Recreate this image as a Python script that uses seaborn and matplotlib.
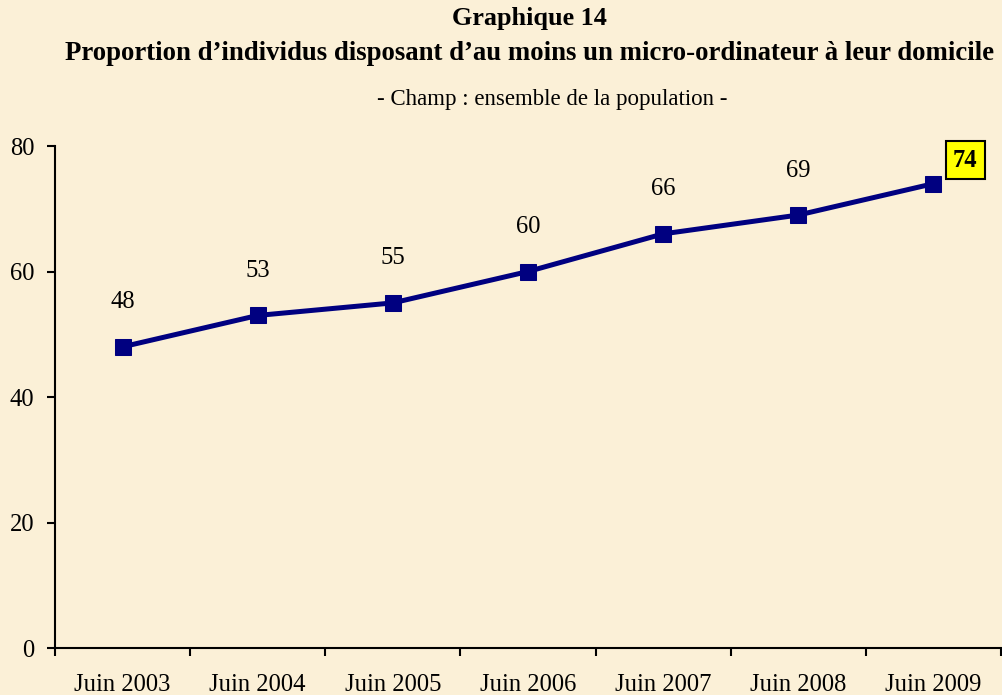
import matplotlib
matplotlib.use("Agg")
import matplotlib.pyplot as plt
import seaborn as sns
import pandas as pd
import numpy as np

categories = ["Juin 2003", "Juin 2004", "Juin 2005", "Juin 2006", "Juin 2007", "Juin 2008", "Juin 2009"]
values = [48, 53, 55, 60, 66, 69, 74]
yticks = [0, 20, 40, 60, 80]

title1 = "Graphique 14"
title2 = "Proportion d\u2019individus disposant d\u2019au moins un micro-ordinateur \u00e0 leur domicile"
subtitle = "- Champ : ensemble de la population -"

sns.set_theme(style="white")
plt.rcParams["font.family"] = ["Liberation Serif", "DejaVu Serif"]

bg = "#FBF0D7"
navy = "#000080"

df = pd.DataFrame({"periode": categories, "valeur": values})

fig = plt.figure(figsize=(10.02, 6.95), dpi=100, facecolor=bg)
ax = fig.add_axes([0.0549, 0.0676, 0.9441, 0.7223])
ax.set_facecolor(bg)

sns.lineplot(data=df, x="periode", y="valeur", ax=ax, color=navy, linewidth=3.6,
             marker="s", markersize=12, markeredgecolor=navy, markerfacecolor=navy)

ax.set_xlim(-0.5, len(categories) - 0.5)
ax.set_ylim(0, 80)
ax.set_xlabel("")
ax.set_ylabel("")

# ticks: major at category boundaries, labels at centres
ax.set_xticks(np.arange(-0.5, len(categories), 1.0))
ax.set_xticklabels([])
ax.set_xticks(np.arange(len(categories)), minor=True)
ax.set_xticklabels(categories, minor=True)
ax.tick_params(axis="x", which="major", direction="out", length=6, width=1.5, color="black", bottom=True)
ax.tick_params(axis="x", which="minor", length=0, pad=19, labelsize=17.7, labelcolor="black")
ax.set_yticks(yticks)
ax.tick_params(axis="y", direction="out", length=6, width=1.5, color="black", left=True,
               labelsize=17.7, labelcolor="black", pad=9)

for s in ["top", "right"]:
    ax.spines[s].set_visible(False)
for s in ["left", "bottom"]:
    ax.spines[s].set_color("black")
    ax.spines[s].set_linewidth(1.5)
ax.grid(False)

for i, v in enumerate(values):
    if i == len(values) - 1:
        ax.annotate(str(v), xy=(i, v), xytext=(23, 17), textcoords="offset points",
                    ha="center", va="center", fontsize=17.7, fontweight="bold", color="black",
                    bbox=dict(boxstyle="square,pad=0.3", facecolor="#FFFF00", edgecolor="black", linewidth=1.5))
    else:
        ax.annotate(str(v), xy=(i, v), xytext=(0, 32), textcoords="offset points",
                    ha="center", va="center", fontsize=17.7, color="black")

fig.text(0.5282, 1 - 18 / 695, title1, ha="center", va="center", fontsize=18.8, fontweight="bold", color="black")
fig.text(0.5282, 1 - 54 / 695, title2, ha="center", va="center", fontsize=19.3, fontweight="bold", color="black")
fig.text(0.5514, 1 - 100 / 695, subtitle, ha="center", va="center", fontsize=16.5, color="black")

fig.savefig("out.png", dpi=100, facecolor=bg)
